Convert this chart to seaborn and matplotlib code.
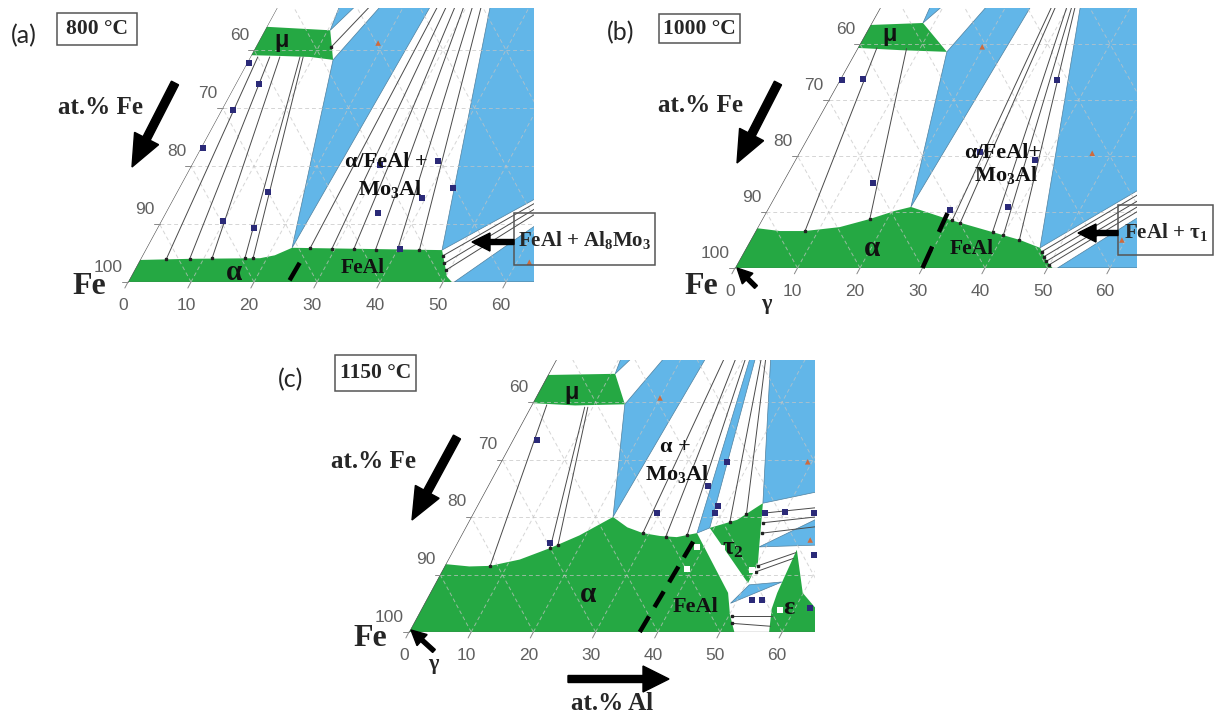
import numpy as np
import pandas as pd
import matplotlib
matplotlib.use("Agg")
import matplotlib.pyplot as plt
import seaborn as sns
from matplotlib.patches import Polygon, Rectangle, FancyArrow
from matplotlib.transforms import IdentityTransform

# ---------------- data (compositions as (at.% Al, at.% Mo)) ----------------
AL_TICKS = [0, 10, 20, 30, 40, 50, 60]
FE_TICKS = [100, 90, 80, 70, 60]

# panel (a) 800 C
A_GREEN_MAIN = [(0, 0), (0, 3.8), (8, 4.0), (18.9, 4.1), (21, 4.6), (23.1, 5.9), (35, 5.7),
                (47.1, 5.5), (50.2, 0.9), (51.4, 0)]
A_GREEN_MU = [(0, 39.1), (0, 44.0), (10.4, 43.4), (13.4, 38.3), (9.5, 38.8), (4, 39.0)]
A_BLUE = [[(23.1, 5.9), (13.4, 38.3), (25, 75)],
          [(10.4, 43.4), (3, 95), (25, 75)],
          [(47.1, 5.5), (25, 75), (72.7, 27.3)],
          [(51.8, 0), (74.2, 27.3), (66, 0)]]
A_TIES = [((4.1, 4.0), (1.2, 38.8)), ((7.8, 4.0), (3.1, 38.8)), ((11.3, 4.1), (4.7, 38.8)),
          ((16.5, 4.1), (7.9, 38.8)), ((17.8, 4.1), (8.4, 38.8)),
          ((26, 5.8), (25, 75)), ((29.5, 5.7), (25, 75)), ((33, 5.7), (25, 75)),
          ((36.5, 5.6), (25, 75)), ((40, 5.6), (25, 75)), ((43.5, 5.5), (25, 75)),
          ((12, 40.5), (25, 75)),
          ((47.7, 4.5), (73, 27.3)), ((48.6, 3.2), (73.4, 27.3)), ((49.4, 2.0), (73.8, 27.3))]
A_NAVY = [(0.3, 37.8), (3.7, 34.1), (1.8, 29.7), (0.3, 23.1), (14.5, 15.5), (9.8, 10.5),
          (15.3, 9.3), (38.8, 20.9), (43.5, 16.2), (39.4, 14.5), (33.7, 11.9), (29.9, 20.2),
          (40.3, 5.7)]
A_ORANGE = [(19.1, 41.2), (62.0, 3.4)]
A_DASH = [(25.5, 0.3), (25.6, 3.3)]

# panel (b) 1000 C
B_GREEN_MAIN = [(0, 0), (0, 7.1), (3.9, 6.6), (7.9, 6.6), (13.1, 7.3), (17.2, 8.75), (20.5, 10.2),
                (22.7, 10.9), (30.1, 8.6), (43.1, 5.0), (47.0, 3.6), (49.4, 1.1), (50.8, 0)]
B_GREEN_MU = [(0, 39.3), (0, 43.4), (8.2, 43.75), (14.6, 38.6), (7.0, 38.9)]
B_BLUE = [[(22.7, 10.9), (14.6, 38.6), (25, 75)],
          [(8.2, 43.75), (3, 95), (25, 75)],
          [(47.0, 3.6), (22, 75), (71, 27)],
          [(51.6, 0), (76.6, 27), (68, 0)]]
B_TIES = [((7.9, 6.6), (3.05, 39.3)), ((17.2, 8.75), (7.85, 39.2)),
          ((30.5, 8.5), (25, 75)), ((32, 8.1), (25, 75)), ((38, 6.4), (24, 75)),
          ((40, 5.9), (24, 75)), ((43, 5.0), (23, 75)),
          ((47.6, 2.9), (72, 27)), ((48.4, 2.0), (73.5, 27)), ((49.2, 1.2), (75, 27)),
          ((50, 0.6), (76, 27))]
B_NAVY = [(0.3, 33.6), (3.6, 33.75), (14.5, 15.2), (34.7, 33.6), (28.9, 20.7), (38.3, 19.3),
          (38.2, 10.9), (29.2, 10.4)]
B_ORANGE = [(19.8, 39.5), (46.9, 20.5), (59.4, 5.0)]
B_DASH = [(30.0, 0), (29.1, 9.8)]

# panel (c) 1150 C
C_GREEN_MAIN = [(0, 0), (0, 11.8), (4, 11.4), (7.3, 11.5), (11.5, 12.6), (15.4, 14.6), (19, 16.8),
                (22.8, 20.0), (26, 18.2), (29, 17.2), (32, 16.7), (34.8, 16.5), (37.7, 17.2),
                (47.9, 6.8), (50.1, 3.0), (52.3, 0)]
C_GREEN_MU = [(0, 39.8), (0, 44.7), (10.7, 44.9), (14.9, 39.6), (7, 39.4)]
C_GREEN_TAU2 = [(39.3, 18.1), (43, 19.5), (45.7, 22.4), (48.9, 14.8), (50.1, 12.0), (50.25, 8.5)]
C_GREEN_EPS = [(57.9, 0), (56.3, 4), (55.8, 6.8), (55.2, 14.3), (59.9, 6.8), (63.1, 4.3),
               (68, 3), (68, 0)]
C_BLUE = [[(22.8, 20.0), (14.9, 39.6), (25, 75)],
          [(10.7, 44.9), (3, 95), (25, 75)],
          [(37.7, 17.2), (39.3, 18.1), (25, 75)],
          [(45.7, 22.4), (22, 75), (70, 28.6)],
          [(48.9, 14.8), (62.1, 24.2), (66.5, 15.4)],
          [(49.2, 5.0), (50.6, 8.2), (55.6, 8.7)]]
C_TIES = [((7.3, 11.5), (2.4, 39.5)), ((15.4, 14.6), (8.7, 39.1)), ((16.4, 15.1), (9.2, 39.1)),
          ((29, 17.2), (25, 75)), ((33, 16.6), (25, 75)), ((36.3, 16.8), (25, 75)),
          ((42, 19.2), (24, 75)), ((44, 20.5), (23, 75)),
          ((46.9, 20.7), (54.5, 21.6)), ((47.4, 19.0), (55.3, 20.0)), ((48.2, 17.2), (56.2, 18.3)),
          ((50.6, 10.5), (55.4, 12.8)), ((50.3, 11.5), (55.3, 13.8)),
          ((51.2, 1.5), (57.6, 1.0)), ((50.6, 2.8), (56.9, 2.8))]
C_NAVY = [(3.9, 33.4), (14.9, 15.5), (36.3, 29.6), (35.4, 25.4), (38.7, 21.9), (38.8, 20.7),
          (29.5, 20.7), (46.9, 20.7), (50, 20.9), (54.7, 20.7), (58.4, 13.4), (52.3, 5.6),
          (54, 5.6), (62.4, 4.2)]
C_ORANGE = [(20, 40.7), (49.3, 29.6), (56.5, 16)]
C_WHITE = [(38.9, 14.8), (39.2, 11.0), (43, 14.6), (49.7, 10.8), (57.7, 3.8)]
C_DASH = [(37.1, 0), (37.9, 17.2)]

# ---------------- styling / layout ----------------
GREEN = '#25a843'
BLUE = '#62b6e8'
NAVY = '#2b2a78'
ORANGE = '#cf6a3c'
SERIF = 'Liberation Serif'

sns.set_theme(style="white")
plt.rcParams['font.family'] = ['Liberation Serif', 'DejaVu Serif']
plt.rcParams['mathtext.fontset'] = 'custom'
plt.rcParams['mathtext.rm'] = 'Liberation Serif:bold'
plt.rcParams['mathtext.it'] = 'Liberation Serif:bold'
plt.rcParams['mathtext.bf'] = 'Liberation Serif:bold'

W, H, DPI = 1215, 713, 100
SQ = np.sqrt(3) / 2
fig = plt.figure(figsize=(W / DPI, H / DPI), dpi=DPI)
fig.patch.set_facecolor('white')

FRAMES = {
    'a': dict(x0=128, y0=282, sx=6.30, pm=5.80, cxmax=64.4, motop=47.2),
    'b': dict(x0=735, y0=268, sx=6.25, pm=5.60, cxmax=64.3, motop=46.4),
    'c': dict(x0=409, y0=632, sx=6.22, pm=5.75, cxmax=65.3, motop=47.3),
}


def cart(pts):
    a = np.asarray(pts, dtype=float)
    return a[:, 0] + a[:, 1] / 2.0, a[:, 1] * SQ


def draw_panel(fr, greens, blues, ties, navy, orange, white, dash, dash_ls):
    ax = fig.add_axes([0, 0, 1, 1])
    ax.set_axis_off()
    ax.patch.set_alpha(0)
    syp = fr['pm'] / SQ
    xl = (-fr['x0'] / fr['sx'], (W - fr['x0']) / fr['sx'])
    yl = ((fr['y0'] - H) / syp, fr['y0'] / syp)
    ax.set_xlim(*xl)
    ax.set_ylim(*yl)
    cyt = fr['motop'] * SQ
    win = Polygon([(0, 0), (fr['cxmax'], 0), (fr['cxmax'], cyt), (cyt / np.sqrt(3), cyt)],
                  closed=True, transform=ax.transData)
    for tri in blues:
        x, y = cart(tri)
        p, = ax.fill(x, y, facecolor=BLUE, edgecolor='#50809e', lw=0.5, zorder=1)
        p.set_clip_path(win)
    for g in greens:
        x, y = cart(g)
        p, = ax.fill(x, y, facecolor=GREEN, edgecolor='none', lw=0, zorder=2)
        p.set_clip_path(win)
    for v in range(10, 100, 10):
        for seg in ([(v, 0), (v, 100 - v)], [(0, v), (100 - v, v)], [(v, 0), (0, v)]):
            x, y = cart(seg)
            ln, = ax.plot(x, y, color='#c4c4c4', lw=0.7, ls=(0, (4, 3)), alpha=0.7, zorder=3)
            ln.set_clip_path(win)
    for a, b in ties:
        x, y = cart([a, b])
        ln, = ax.plot(x, y, color='#4a4a4a', lw=0.7, zorder=4)
        ln.set_clip_path(win)
        ax.plot(x[:1], y[:1], marker='s', ms=1.8, color='#222222', zorder=5)
    for seg in ([(0, 0), (0, 100)], [(0, 0), (100, 0)]):
        x, y = cart(seg)
        ln, = ax.plot(x, y, color='#555555', lw=0.9, zorder=4)
        ln.set_clip_path(win)
    # ticks and tick labels
    for t in AL_TICKS:
        ax.plot([t, t - 0.5], [0, -0.9], color='#888888', lw=0.7, zorder=4)
        ax.text(t - 5 / fr['sx'], -23 / syp, str(t), ha='center', va='center',
                fontsize=12.5, color='#606060', family='Liberation Sans')
    for f in FE_TICKS:
        mo = 100 - f
        x, y = mo / 2, mo * SQ
        ax.plot([x, x - 0.9], [y, y], color='#888888', lw=0.7, zorder=4)
        ax.text(x - 5 / fr['sx'], y + 15 / syp, str(f), ha='right', va='center',
                fontsize=12.5, color='#606060', family='Liberation Sans')
    # dashed alpha / FeAl boundary
    x, y = cart(dash)
    ax.plot(x, y, color='black', lw=3.2, ls=dash_ls, zorder=7, solid_capstyle='butt',
            dash_capstyle='butt')
    # measured compositions
    for pts, mk, col, sz in ((navy, 's', NAVY, 20), (orange, '^', ORANGE, 16),
                             (white, 's', 'white', 18)):
        if not pts:
            continue
        cx, cy = cart(pts)
        df = pd.DataFrame({'x': cx, 'y': cy})
        sns.scatterplot(data=df, x='x', y='y', marker=mk, s=sz, color=col, edgecolor='none',
                        linewidth=0, ax=ax, zorder=6, legend=False)
    ax.set_xlim(*xl)
    ax.set_ylim(*yl)
    ax.set_axis_off()
    return ax


draw_panel(FRAMES['a'], [A_GREEN_MAIN, A_GREEN_MU], A_BLUE, A_TIES, A_NAVY, A_ORANGE, [],
           A_DASH, '-')
draw_panel(FRAMES['b'], [B_GREEN_MAIN, B_GREEN_MU], B_BLUE, B_TIES, B_NAVY, B_ORANGE, [],
           B_DASH, (0, (5.3, 3.6)))
draw_panel(FRAMES['c'], [C_GREEN_MAIN, C_GREEN_MU, C_GREEN_TAU2, C_GREEN_EPS], C_BLUE, C_TIES,
           C_NAVY, C_ORANGE, C_WHITE, C_DASH, (0, (4.1, 2.4)))


# ---------------- annotations in figure pixels ----------------
def ftext(px, py, s, size, family=SERIF, weight='bold', **kw):
    fig.text(px / W, 1 - py / H, s, ha='center', va='center', fontsize=size,
             family=family, weight=weight, **kw)


def farrow(tail, tip, width, hw, hl):
    x0, y0 = tail
    x1, y1 = tip
    fig.add_artist(FancyArrow(x0, H - y0, x1 - x0, -(y1 - y0), width=width, head_width=hw,
                              head_length=hl, length_includes_head=True, color='black',
                              transform=IdentityTransform()))


def fbox(x0, y0, x1, y1):
    fig.add_artist(Rectangle((x0, H - y1), x1 - x0, y1 - y0, fill=False, ec='#555555', lw=1.1,
                             transform=IdentityTransform()))


# panel letters
for px, py, s in ((24, 36, '(a)'), (621, 33, '(b)'), (291, 380, '(c)')):
    ftext(px, py, s, 18, family='Lato', weight='normal')

# temperature boxes
for (bx0, by0, bx1, by1), s in (((57, 13, 137, 45), '800 °C'), ((659, 14, 740, 43), '1000 °C'),
                                ((335, 355, 416, 391), '1150 °C')):
    fbox(bx0, by0, bx1, by1)
    ftext((bx0 + bx1) / 2, (by0 + by1) / 2, s, 15.5)

# at.% Fe arrows + labels
for (tx, ty), tail, tip in (((101, 108), (175, 83), (132, 167)),
                            ((700, 105), (778, 83), (737, 163)),
                            ((374, 461), (457, 437), (412, 520))):
    ftext(tx, ty, 'at.% Fe', 18)
    farrow(tail, tip, 8, 27, 32)

# Fe corner labels
for px, py in ((89, 287), (701, 287), (370, 638)):
    ftext(px, py, 'Fe', 23)

# gamma arrows
for tail, tip, (gx, gy) in (((756, 287), (737, 268), (766, 304)),
                            ((434, 651), (411, 630), (433, 664))):
    farrow(tail, tip, 4, 15, 15)
    ftext(gx, gy, 'γ', 16)

# at.% Al arrow (c)
farrow((568, 679), (669, 679), 7, 26, 26)
ftext(612, 703, 'at.% Al', 18)

# phase labels
PHASE_LABELS = [
    (282, 40, 'μ', 17, 'Liberation Sans'), (234, 272, 'α', 21, SERIF), (363, 268, 'FeAl', 15.5, SERIF),
    (386, 162, 'α/FeAl +', 16, SERIF), (390, 189, 'Mo$_3$Al', 16, SERIF),
    (890, 35, 'μ', 17, 'Liberation Sans'), (872, 248, 'α', 21, SERIF), (972, 249, 'FeAl', 15.5, SERIF),
    (1003, 153, 'α/FeAl+', 16, SERIF), (1006, 175, 'Mo$_3$Al', 16, SERIF),
    (572, 392, 'μ', 17, 'Liberation Sans'), (588, 595, 'α', 21, SERIF), (695, 607, 'FeAl', 16, SERIF),
    (675, 447, 'α +', 16, SERIF), (677, 474, 'Mo$_3$Al', 16, SERIF),
    (733, 549, 'τ$_2$', 18, SERIF), (789, 607, 'ε', 19, SERIF),
]
for px, py, s, sz, fam in PHASE_LABELS:
    ftext(px, py, s, sz, family=fam, color='#111111')

# two-phase boxes with arrows
fbox(514, 213, 655, 265)
ftext(585, 240, 'FeAl + Al$_8$Mo$_3$', 15)
farrow((514, 242), (472, 242), 5, 18, 18)
fbox(1118, 205, 1213, 255)
ftext(1166, 232, 'FeAl + τ$_1$', 15)
farrow((1118, 233), (1078, 233), 5, 18, 18)

fig.savefig('out.png', dpi=DPI, facecolor='white')
